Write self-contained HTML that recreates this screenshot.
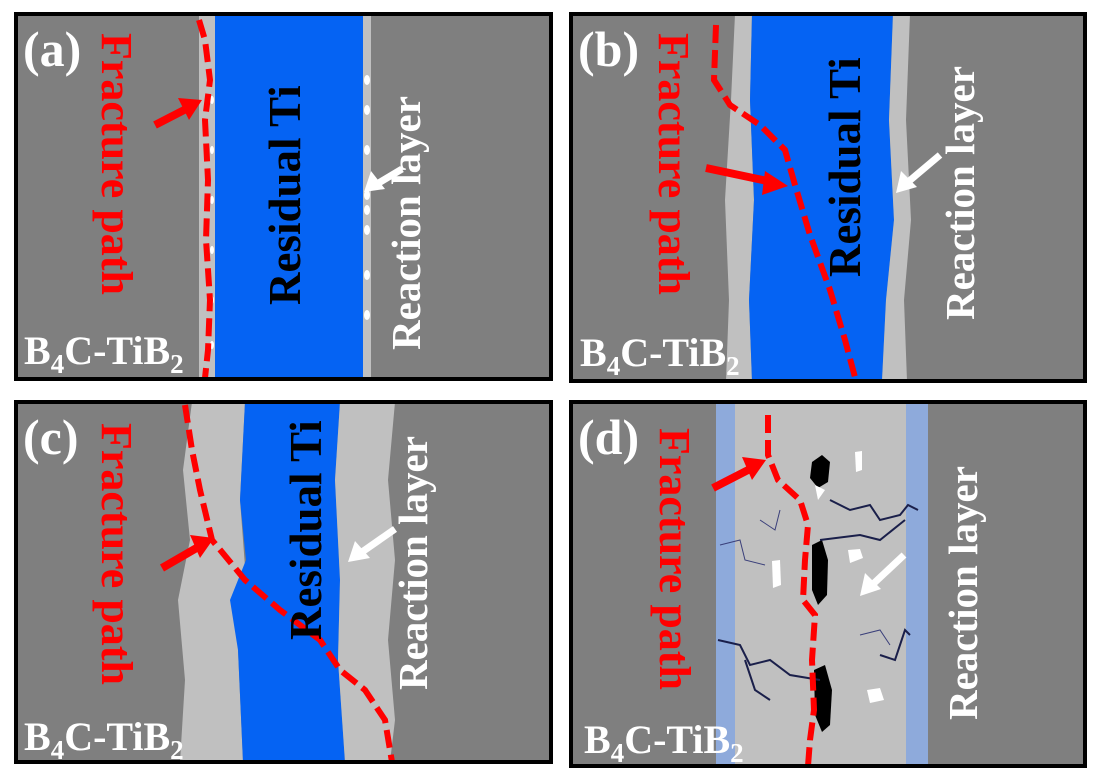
<!DOCTYPE html>
<html><head><meta charset="utf-8"><style>
html,body{margin:0;padding:0;background:#fff;}
svg{display:block;}
text{font-family:"Liberation Serif",serif;font-weight:bold;}
</style></head><body>
<svg width="1099" height="779" viewBox="0 0 1099 779" xmlns="http://www.w3.org/2000/svg">
<rect width="1099" height="779" fill="#fff"/>
<!-- Panel a -->
<rect x="16" y="14" width="535" height="365" fill="#7f7f7f"/>
<rect x="199" y="14" width="16" height="365" fill="#c0c0c0"/>
<rect x="215" y="14" width="148" height="365" fill="#0563f3"/>
<rect x="363" y="14" width="8" height="365" fill="#c0c0c0"/>
<g fill="#fff"><ellipse cx="367" cy="80" rx="3" ry="5"/><ellipse cx="367" cy="110" rx="3" ry="5"/><ellipse cx="367" cy="150" rx="3" ry="5"/><ellipse cx="367" cy="195" rx="3" ry="5"/><ellipse cx="367" cy="210" rx="3" ry="5"/><ellipse cx="367" cy="230" rx="3" ry="5"/><ellipse cx="367" cy="275" rx="3" ry="5"/><ellipse cx="367" cy="315" rx="3" ry="5"/>
<ellipse cx="212" cy="100" rx="2" ry="4"/><ellipse cx="212" cy="150" rx="2" ry="4"/><ellipse cx="212" cy="200" rx="2" ry="4"/><ellipse cx="212" cy="250" rx="2" ry="4"/><ellipse cx="212" cy="300" rx="2" ry="4"/><ellipse cx="212" cy="345" rx="2" ry="4"/></g>
<path d="M199 20 L205 40 L210 80 L205 120 L208 180 L206 240 L210 300 L208 350 L205 378" fill="none" stroke="#f00" stroke-width="6" stroke-dasharray="18,7"/>
<path d="M155 125 L190 107" stroke="#f00" stroke-width="8"/><polygon points="202,100 178,98 189,120" fill="#f00"/>
<path d="M402 169 L377 184" stroke="#fff" stroke-width="7"/><polygon points="364,192 371,171 385,189" fill="#fff"/>
<rect x="16" y="14" width="535" height="365" fill="none" stroke="#000" stroke-width="4"/>
<text x="23" y="66" fill="#fff" font-size="50">(a)</text>
<text transform="translate(102,33) rotate(90)" fill="#f00" font-size="44">Fracture path</text>
<text transform="translate(300,305) rotate(-90)" fill="#000" font-size="45">Residual  Ti</text>
<text transform="translate(420,350) rotate(-90)" fill="#fff" font-size="41">Reaction layer</text>
<text x="24" y="364" fill="#fff" font-size="40">B<tspan font-size="27" dy="9">4</tspan><tspan dy="-9">C-TiB</tspan><tspan font-size="27" dy="9">2</tspan></text>

<!-- Panel b -->
<rect x="571" y="14" width="514" height="367" fill="#7f7f7f"/>
<path d="M735 14 L752 14 L750 100 L754 200 L749 300 L752 381 L726 381 L729 300 L725 200 L731 100 Z" fill="#c0c0c0"/>
<path d="M752 14 L893 14 L889 120 L894 220 L886 300 L882 381 L752 381 L749 300 L754 200 L750 100 Z" fill="#0563f3"/>
<path d="M893 14 L910 14 L906 120 L911 220 L904 300 L907 381 L882 381 L886 300 L894 220 L889 120 Z" fill="#c0c0c0"/>
<path d="M716 25 L714 80 L730 105 L760 125 L785 150 L795 185 L810 235 L830 290 L845 340 L856 381" fill="none" stroke="#f00" stroke-width="6" stroke-dasharray="18,7"/>
<path d="M706 168 L772 182" stroke="#f00" stroke-width="8"/><polygon points="788,186 765,171 762,195" fill="#f00"/>
<path d="M940 155 L908 182" stroke="#fff" stroke-width="7"/><polygon points="896,193 901,171 917,187" fill="#fff"/>
<rect x="571" y="14" width="514" height="367" fill="none" stroke="#000" stroke-width="4"/>
<text x="578" y="66" fill="#fff" font-size="50">(b)</text>
<text transform="translate(659,33) rotate(90)" fill="#f00" font-size="44">Fracture path</text>
<text transform="translate(860,277) rotate(-90)" fill="#000" font-size="45">Residual  Ti</text>
<text transform="translate(974,320) rotate(-90)" fill="#fff" font-size="41">Reaction layer</text>
<text x="580" y="366" fill="#fff" font-size="40">B<tspan font-size="27" dy="9">4</tspan><tspan dy="-9">C-TiB</tspan><tspan font-size="27" dy="9">2</tspan></text>

<!-- Panel c -->
<rect x="16" y="402" width="535" height="360" fill="#7f7f7f"/>
<path d="M192 402 L245 402 L240 500 L246 580 L238 650 L243 762 L180 762 L185 680 L178 600 L190 540 L183 470 Z" fill="#c0c0c0"/>
<path d="M245 402 L340 402 L335 480 L340 580 L338 660 L345 762 L243 762 L238 650 L230 600 L246 560 L240 500 Z" fill="#0563f3"/>
<path d="M340 402 L395 402 L388 480 L395 560 L388 640 L395 720 L390 762 L345 762 L338 660 L340 580 L335 480 Z" fill="#c0c0c0"/>
<path d="M185 405 L192 450 L200 490 L212 540 L245 580 L280 610 L320 640 L340 670 L365 690 L385 720 L392 762" fill="none" stroke="#f00" stroke-width="6" stroke-dasharray="18,7"/>
<path d="M162 568 L200 546" stroke="#f00" stroke-width="8"/><polygon points="214,538 190,535 200,558" fill="#f00"/>
<path d="M395 529 L362 552" stroke="#fff" stroke-width="7"/><polygon points="348,562 355,541 370,558" fill="#fff"/>
<rect x="16" y="402" width="535" height="360" fill="none" stroke="#000" stroke-width="4"/>
<text x="23" y="454" fill="#fff" font-size="50">(c)</text>
<text transform="translate(102,423) rotate(90)" fill="#f00" font-size="44">Fracture path</text>
<text transform="translate(321,640) rotate(-90)" fill="#000" font-size="45">Residual  Ti</text>
<text transform="translate(427,690) rotate(-90)" fill="#fff" font-size="41">Reaction layer</text>
<text x="24" y="750" fill="#fff" font-size="40">B<tspan font-size="27" dy="9">4</tspan><tspan dy="-9">C-TiB</tspan><tspan font-size="27" dy="9">2</tspan></text>

<!-- Panel d -->
<rect x="571" y="402" width="514" height="364" fill="#7f7f7f"/>
<rect x="716" y="402" width="212" height="364" fill="#8eaadb"/>
<rect x="735" y="402" width="171" height="364" fill="#c0c0c0"/>
<g fill="#000"><path d="M812 462 L822 455 L830 462 L828 482 L818 488 L810 478 Z"/><path d="M812 545 L822 540 L828 560 L827 595 L818 605 L812 590 Z"/><path d="M814 670 L825 665 L832 690 L830 725 L822 732 L815 715 Z"/></g>
<g fill="#fff"><path d="M855 452 L862 451 L862 470 L856 472 Z"/><path d="M848 550 L860 549 L863 558 L850 563 Z"/><path d="M772 561 L780 560 L781 585 L773 588 Z"/><path d="M867 690 L880 688 L884 700 L870 703 Z"/><path d="M815 485 L825 490 L818 500 Z"/></g>
<g fill="none" stroke="#1a1f4a" stroke-width="2"><path d="M830 500 L850 510 L870 505 L880 520 L900 515 L908 505 L918 510"/><path d="M820 540 L860 535 L880 540 L905 520"/><path d="M718 640 L740 645 L750 665 L770 660 L790 675 L820 680"/><path d="M880 655 L895 660 L905 630 L910 635"/><path d="M745 660 L755 690 L770 700"/></g>
<g fill="none" stroke="#3a3f7a" stroke-width="1"><path d="M720 545 L740 540 L745 560 L765 565"/><path d="M760 520 L775 530 L780 510"/><path d="M860 635 L880 630 L890 645"/></g>
<path d="M768 415 L768 455 L778 480 L800 500 L808 525 L805 560 L803 600 L815 615 L812 660 L814 710 L810 740 L808 766" fill="none" stroke="#f00" stroke-width="6" stroke-dasharray="18,7"/>
<path d="M713 488 L752 468" stroke="#f00" stroke-width="8"/><polygon points="766,460 742,457 752,480" fill="#f00"/>
<path d="M904 555 L872 585" stroke="#fff" stroke-width="7"/><polygon points="860,596 865,573 881,589" fill="#fff"/>
<rect x="571" y="402" width="514" height="364" fill="none" stroke="#000" stroke-width="4"/>
<text x="578" y="454" fill="#fff" font-size="50">(d)</text>
<text transform="translate(660,428) rotate(90)" fill="#f00" font-size="44">Fracture path</text>
<text transform="translate(977,720) rotate(-90)" fill="#fff" font-size="41">Reaction layer</text>
<text x="584" y="753" fill="#fff" font-size="40">B<tspan font-size="27" dy="9">4</tspan><tspan dy="-9">C-TiB</tspan><tspan font-size="27" dy="9">2</tspan></text>
</svg>
</body></html>
